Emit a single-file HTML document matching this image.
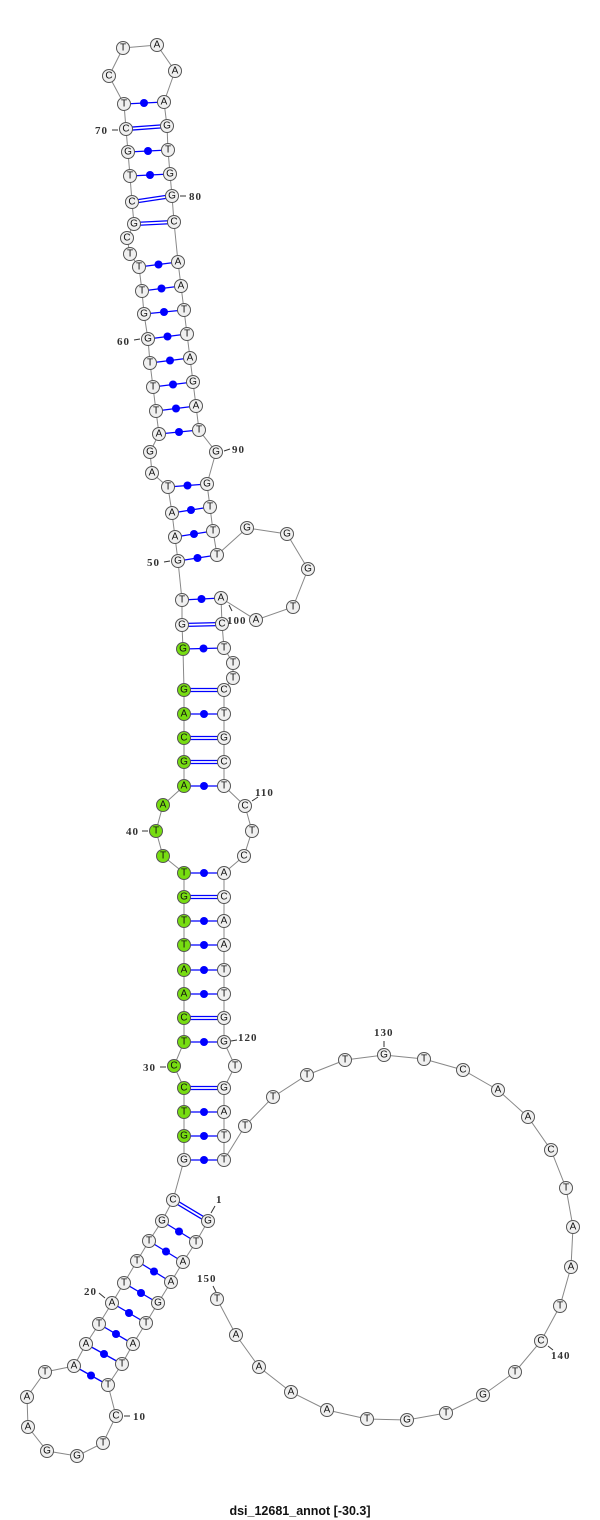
<!DOCTYPE html>
<html><head><meta charset="utf-8"><style>
html,body{margin:0;padding:0;background:#fff;}
svg{display:block}
.n{fill:#f0f0f0;stroke:#555;stroke-width:1}
.g{fill:#77dd11;stroke:#555;stroke-width:1}
.t{font-family:"Liberation Sans",sans-serif;font-size:10px;fill:#111;text-anchor:middle;dominant-baseline:central}
.l{font-family:"Liberation Serif",serif;font-size:11px;font-weight:bold;fill:#333;letter-spacing:1px}
.b{stroke:#0000ff;stroke-width:1.3}
</style></head><body>
<svg width="600" height="1520" viewBox="0 0 600 1520" xmlns="http://www.w3.org/2000/svg">
<polyline fill="none" stroke="#888" stroke-width="1" points="208,1221 196,1242 183,1262 171,1282 158,1303 146,1323 133,1344 122,1364 108,1385 116,1416 103,1443 77,1456 47,1451 28,1427 27,1397 45,1372 74,1366 86,1344 99,1324 112,1303 124,1283 137,1261 149,1241 162,1221 173,1200 184,1160 184,1136 184,1112 184,1088 174,1066 184,1042 184,1018 184,994 184,970 184,945 184,921 184,897 184,873 163,856 156,831 163,805 184,786 184,762 184,738 184,714 184,690 183,649 182,625 182,600 178,561 175,537 172,513 168,487 152,473 150,452 159,434 156,411 153,387 150,363 148,339 144,314 142,291 139,267 130,254 127,238 134,224 132,202 130,176 128,152 126,129 124,104 109,76 123,48 157,45 175,71 164,102 167,126 168,150 170,174 172,196 174,222 178,262 181,286 184,310 187,334 190,358 193,382 196,406 199,430 216,452 207,484 210,507 213,531 217,555 247,528 287,534 308,569 293,607 256,620 221,598 222,624 224,648 233,663 233,678 224,690 224,714 224,738 224,762 224,786 245,806 252,831 244,856 224,873 224,897 224,921 224,945 224,970 224,994 224,1018 224,1042 235,1066 224,1088 224,1112 224,1136 224,1160 245,1126 273,1097 307,1075 345,1060 384,1055 424,1059 463,1070 498,1090 528,1117 551,1150 566,1188 573,1227 571,1267 560,1306 541,1341 515,1372 483,1395 446,1413 407,1420 367,1419 327,1410 291,1392 259,1367 236,1335 217,1299"/>
<!-- dot pairs -->
<g class="b">
<line x1="196" y1="1242" x2="162" y2="1221"/><line x1="183" y1="1262" x2="149" y2="1241"/><line x1="171" y1="1282" x2="137" y2="1261"/><line x1="158" y1="1303" x2="124" y2="1283"/><line x1="146" y1="1323" x2="112" y2="1303"/><line x1="133" y1="1344" x2="99" y2="1324"/><line x1="122" y1="1364" x2="86" y2="1344"/><line x1="108" y1="1385" x2="74" y2="1366"/>
<line x1="184" y1="1160" x2="224" y2="1160"/><line x1="184" y1="1136" x2="224" y2="1136"/><line x1="184" y1="1112" x2="224" y2="1112"/><line x1="184" y1="1042" x2="224" y2="1042"/><line x1="184" y1="994" x2="224" y2="994"/><line x1="184" y1="970" x2="224" y2="970"/><line x1="184" y1="945" x2="224" y2="945"/><line x1="184" y1="921" x2="224" y2="921"/><line x1="184" y1="873" x2="224" y2="873"/><line x1="184" y1="786" x2="224" y2="786"/><line x1="184" y1="714" x2="224" y2="714"/><line x1="183" y1="649" x2="224" y2="648"/><line x1="182" y1="600" x2="221" y2="598"/>
<line x1="178" y1="561" x2="217" y2="555"/><line x1="175" y1="537" x2="213" y2="531"/><line x1="172" y1="513" x2="210" y2="507"/><line x1="168" y1="487" x2="207" y2="484"/>
<line x1="159" y1="434" x2="199" y2="430"/><line x1="156" y1="411" x2="196" y2="406"/><line x1="153" y1="387" x2="193" y2="382"/><line x1="150" y1="363" x2="190" y2="358"/><line x1="148" y1="339" x2="187" y2="334"/><line x1="144" y1="314" x2="184" y2="310"/><line x1="142" y1="291" x2="181" y2="286"/><line x1="139" y1="267" x2="178" y2="262"/>
<line x1="130" y1="176" x2="170" y2="174"/><line x1="128" y1="152" x2="168" y2="150"/><line x1="124" y1="104" x2="164" y2="102"/>
<!-- double pairs -->
<line x1="208.8" y1="1219.7" x2="173.8" y2="1198.7"/><line x1="207.2" y1="1222.3" x2="172.2" y2="1201.3"/>
<line x1="184" y1="1086.5" x2="224" y2="1086.5"/><line x1="184" y1="1089.5" x2="224" y2="1089.5"/>
<line x1="184" y1="1016.5" x2="224" y2="1016.5"/><line x1="184" y1="1019.5" x2="224" y2="1019.5"/>
<line x1="184" y1="895.5" x2="224" y2="895.5"/><line x1="184" y1="898.5" x2="224" y2="898.5"/>
<line x1="184" y1="760.5" x2="224" y2="760.5"/><line x1="184" y1="763.5" x2="224" y2="763.5"/>
<line x1="184" y1="736.5" x2="224" y2="736.5"/><line x1="184" y1="739.5" x2="224" y2="739.5"/>
<line x1="184" y1="688.5" x2="224" y2="688.5"/><line x1="184" y1="691.5" x2="224" y2="691.5"/>
<line x1="182" y1="623.5" x2="222" y2="622.5"/><line x1="182" y1="626.5" x2="222" y2="625.5"/>
<line x1="134" y1="222.5" x2="174" y2="220.5"/><line x1="134" y1="225.5" x2="174" y2="223.5"/>
<line x1="132" y1="200.5" x2="172" y2="194.5"/><line x1="132" y1="203.5" x2="172" y2="197.5"/>
<line x1="126" y1="127.5" x2="167" y2="124.5"/><line x1="126" y1="130.5" x2="167" y2="127.5"/>
</g>
<g fill="#0000ff">
<circle cx="179" cy="1231.5" r="4"/><circle cx="166" cy="1251.5" r="4"/><circle cx="154" cy="1271.5" r="4"/><circle cx="141" cy="1293" r="4"/><circle cx="129" cy="1313" r="4"/><circle cx="116" cy="1334" r="4"/><circle cx="104" cy="1354" r="4"/><circle cx="91" cy="1375.5" r="4"/>
<circle cx="204" cy="1160" r="4"/><circle cx="204" cy="1136" r="4"/><circle cx="204" cy="1112" r="4"/><circle cx="204" cy="1042" r="4"/><circle cx="204" cy="994" r="4"/><circle cx="204" cy="970" r="4"/><circle cx="204" cy="945" r="4"/><circle cx="204" cy="921" r="4"/><circle cx="204" cy="873" r="4"/><circle cx="204" cy="786" r="4"/><circle cx="204" cy="714" r="4"/><circle cx="203.5" cy="648.5" r="4"/><circle cx="201.5" cy="599" r="4"/>
<circle cx="197.5" cy="558" r="4"/><circle cx="194" cy="534" r="4"/><circle cx="191" cy="510" r="4"/><circle cx="187.5" cy="485.5" r="4"/>
<circle cx="179" cy="432" r="4"/><circle cx="176" cy="408.5" r="4"/><circle cx="173" cy="384.5" r="4"/><circle cx="170" cy="360.5" r="4"/><circle cx="167.5" cy="336.5" r="4"/><circle cx="164" cy="312" r="4"/><circle cx="161.5" cy="288.5" r="4"/><circle cx="158.5" cy="264.5" r="4"/>
<circle cx="150" cy="175" r="4"/><circle cx="148" cy="151" r="4"/><circle cx="144" cy="103" r="4"/>
</g>
<!-- nodes -->
<g>
<circle class="n" cx="208" cy="1221" r="6.5"/><text class="t" x="208" y="1221">G</text>
<circle class="n" cx="196" cy="1242" r="6.5"/><text class="t" x="196" y="1242">T</text>
<circle class="n" cx="183" cy="1262" r="6.5"/><text class="t" x="183" y="1262">A</text>
<circle class="n" cx="171" cy="1282" r="6.5"/><text class="t" x="171" y="1282">A</text>
<circle class="n" cx="158" cy="1303" r="6.5"/><text class="t" x="158" y="1303">G</text>
<circle class="n" cx="146" cy="1323" r="6.5"/><text class="t" x="146" y="1323">T</text>
<circle class="n" cx="133" cy="1344" r="6.5"/><text class="t" x="133" y="1344">A</text>
<circle class="n" cx="122" cy="1364" r="6.5"/><text class="t" x="122" y="1364">T</text>
<circle class="n" cx="108" cy="1385" r="6.5"/><text class="t" x="108" y="1385">T</text>
<circle class="n" cx="116" cy="1416" r="6.5"/><text class="t" x="116" y="1416">C</text>
<circle class="n" cx="103" cy="1443" r="6.5"/><text class="t" x="103" y="1443">T</text>
<circle class="n" cx="77" cy="1456" r="6.5"/><text class="t" x="77" y="1456">G</text>
<circle class="n" cx="47" cy="1451" r="6.5"/><text class="t" x="47" y="1451">G</text>
<circle class="n" cx="28" cy="1427" r="6.5"/><text class="t" x="28" y="1427">A</text>
<circle class="n" cx="27" cy="1397" r="6.5"/><text class="t" x="27" y="1397">A</text>
<circle class="n" cx="45" cy="1372" r="6.5"/><text class="t" x="45" y="1372">T</text>
<circle class="n" cx="74" cy="1366" r="6.5"/><text class="t" x="74" y="1366">A</text>
<circle class="n" cx="86" cy="1344" r="6.5"/><text class="t" x="86" y="1344">A</text>
<circle class="n" cx="99" cy="1324" r="6.5"/><text class="t" x="99" y="1324">T</text>
<circle class="n" cx="112" cy="1303" r="6.5"/><text class="t" x="112" y="1303">A</text>
<circle class="n" cx="124" cy="1283" r="6.5"/><text class="t" x="124" y="1283">T</text>
<circle class="n" cx="137" cy="1261" r="6.5"/><text class="t" x="137" y="1261">T</text>
<circle class="n" cx="149" cy="1241" r="6.5"/><text class="t" x="149" y="1241">T</text>
<circle class="n" cx="162" cy="1221" r="6.5"/><text class="t" x="162" y="1221">G</text>
<circle class="n" cx="173" cy="1200" r="6.5"/><text class="t" x="173" y="1200">C</text>
<circle class="n" cx="184" cy="1160" r="6.5"/><text class="t" x="184" y="1160">G</text>
<circle class="g" cx="184" cy="1136" r="6.5"/><text class="t" x="184" y="1136">G</text>
<circle class="g" cx="184" cy="1112" r="6.5"/><text class="t" x="184" y="1112">T</text>
<circle class="g" cx="184" cy="1088" r="6.5"/><text class="t" x="184" y="1088">C</text>
<circle class="g" cx="174" cy="1066" r="6.5"/><text class="t" x="174" y="1066">C</text>
<circle class="g" cx="184" cy="1042" r="6.5"/><text class="t" x="184" y="1042">T</text>
<circle class="g" cx="184" cy="1018" r="6.5"/><text class="t" x="184" y="1018">C</text>
<circle class="g" cx="184" cy="994" r="6.5"/><text class="t" x="184" y="994">A</text>
<circle class="g" cx="184" cy="970" r="6.5"/><text class="t" x="184" y="970">A</text>
<circle class="g" cx="184" cy="945" r="6.5"/><text class="t" x="184" y="945">T</text>
<circle class="g" cx="184" cy="921" r="6.5"/><text class="t" x="184" y="921">T</text>
<circle class="g" cx="184" cy="897" r="6.5"/><text class="t" x="184" y="897">G</text>
<circle class="g" cx="184" cy="873" r="6.5"/><text class="t" x="184" y="873">T</text>
<circle class="g" cx="163" cy="856" r="6.5"/><text class="t" x="163" y="856">T</text>
<circle class="g" cx="156" cy="831" r="6.5"/><text class="t" x="156" y="831">T</text>
<circle class="g" cx="163" cy="805" r="6.5"/><text class="t" x="163" y="805">A</text>
<circle class="g" cx="184" cy="786" r="6.5"/><text class="t" x="184" y="786">A</text>
<circle class="g" cx="184" cy="762" r="6.5"/><text class="t" x="184" y="762">G</text>
<circle class="g" cx="184" cy="738" r="6.5"/><text class="t" x="184" y="738">C</text>
<circle class="g" cx="184" cy="714" r="6.5"/><text class="t" x="184" y="714">A</text>
<circle class="g" cx="184" cy="690" r="6.5"/><text class="t" x="184" y="690">G</text>
<circle class="g" cx="183" cy="649" r="6.5"/><text class="t" x="183" y="649">G</text>
<circle class="n" cx="182" cy="625" r="6.5"/><text class="t" x="182" y="625">G</text>
<circle class="n" cx="182" cy="600" r="6.5"/><text class="t" x="182" y="600">T</text>
<circle class="n" cx="178" cy="561" r="6.5"/><text class="t" x="178" y="561">G</text>
<circle class="n" cx="175" cy="537" r="6.5"/><text class="t" x="175" y="537">A</text>
<circle class="n" cx="172" cy="513" r="6.5"/><text class="t" x="172" y="513">A</text>
<circle class="n" cx="168" cy="487" r="6.5"/><text class="t" x="168" y="487">T</text>
<circle class="n" cx="152" cy="473" r="6.5"/><text class="t" x="152" y="473">A</text>
<circle class="n" cx="150" cy="452" r="6.5"/><text class="t" x="150" y="452">G</text>
<circle class="n" cx="159" cy="434" r="6.5"/><text class="t" x="159" y="434">A</text>
<circle class="n" cx="156" cy="411" r="6.5"/><text class="t" x="156" y="411">T</text>
<circle class="n" cx="153" cy="387" r="6.5"/><text class="t" x="153" y="387">T</text>
<circle class="n" cx="150" cy="363" r="6.5"/><text class="t" x="150" y="363">T</text>
<circle class="n" cx="148" cy="339" r="6.5"/><text class="t" x="148" y="339">G</text>
<circle class="n" cx="144" cy="314" r="6.5"/><text class="t" x="144" y="314">G</text>
<circle class="n" cx="142" cy="291" r="6.5"/><text class="t" x="142" y="291">T</text>
<circle class="n" cx="139" cy="267" r="6.5"/><text class="t" x="139" y="267">T</text>
<circle class="n" cx="130" cy="254" r="6.5"/><text class="t" x="130" y="254">T</text>
<circle class="n" cx="127" cy="238" r="6.5"/><text class="t" x="127" y="238">C</text>
<circle class="n" cx="134" cy="224" r="6.5"/><text class="t" x="134" y="224">G</text>
<circle class="n" cx="132" cy="202" r="6.5"/><text class="t" x="132" y="202">C</text>
<circle class="n" cx="130" cy="176" r="6.5"/><text class="t" x="130" y="176">T</text>
<circle class="n" cx="128" cy="152" r="6.5"/><text class="t" x="128" y="152">G</text>
<circle class="n" cx="126" cy="129" r="6.5"/><text class="t" x="126" y="129">C</text>
<circle class="n" cx="124" cy="104" r="6.5"/><text class="t" x="124" y="104">T</text>
<circle class="n" cx="109" cy="76" r="6.5"/><text class="t" x="109" y="76">C</text>
<circle class="n" cx="123" cy="48" r="6.5"/><text class="t" x="123" y="48">T</text>
<circle class="n" cx="157" cy="45" r="6.5"/><text class="t" x="157" y="45">A</text>
<circle class="n" cx="175" cy="71" r="6.5"/><text class="t" x="175" y="71">A</text>
<circle class="n" cx="164" cy="102" r="6.5"/><text class="t" x="164" y="102">A</text>
<circle class="n" cx="167" cy="126" r="6.5"/><text class="t" x="167" y="126">G</text>
<circle class="n" cx="168" cy="150" r="6.5"/><text class="t" x="168" y="150">T</text>
<circle class="n" cx="170" cy="174" r="6.5"/><text class="t" x="170" y="174">G</text>
<circle class="n" cx="172" cy="196" r="6.5"/><text class="t" x="172" y="196">G</text>
<circle class="n" cx="174" cy="222" r="6.5"/><text class="t" x="174" y="222">C</text>
<circle class="n" cx="178" cy="262" r="6.5"/><text class="t" x="178" y="262">A</text>
<circle class="n" cx="181" cy="286" r="6.5"/><text class="t" x="181" y="286">A</text>
<circle class="n" cx="184" cy="310" r="6.5"/><text class="t" x="184" y="310">T</text>
<circle class="n" cx="187" cy="334" r="6.5"/><text class="t" x="187" y="334">T</text>
<circle class="n" cx="190" cy="358" r="6.5"/><text class="t" x="190" y="358">A</text>
<circle class="n" cx="193" cy="382" r="6.5"/><text class="t" x="193" y="382">G</text>
<circle class="n" cx="196" cy="406" r="6.5"/><text class="t" x="196" y="406">A</text>
<circle class="n" cx="199" cy="430" r="6.5"/><text class="t" x="199" y="430">T</text>
<circle class="n" cx="216" cy="452" r="6.5"/><text class="t" x="216" y="452">G</text>
<circle class="n" cx="207" cy="484" r="6.5"/><text class="t" x="207" y="484">G</text>
<circle class="n" cx="210" cy="507" r="6.5"/><text class="t" x="210" y="507">T</text>
<circle class="n" cx="213" cy="531" r="6.5"/><text class="t" x="213" y="531">T</text>
<circle class="n" cx="217" cy="555" r="6.5"/><text class="t" x="217" y="555">T</text>
<circle class="n" cx="247" cy="528" r="6.5"/><text class="t" x="247" y="528">G</text>
<circle class="n" cx="287" cy="534" r="6.5"/><text class="t" x="287" y="534">G</text>
<circle class="n" cx="308" cy="569" r="6.5"/><text class="t" x="308" y="569">G</text>
<circle class="n" cx="293" cy="607" r="6.5"/><text class="t" x="293" y="607">T</text>
<circle class="n" cx="256" cy="620" r="6.5"/><text class="t" x="256" y="620">A</text>
<circle class="n" cx="221" cy="598" r="6.5"/><text class="t" x="221" y="598">A</text>
<circle class="n" cx="222" cy="624" r="6.5"/><text class="t" x="222" y="624">C</text>
<circle class="n" cx="224" cy="648" r="6.5"/><text class="t" x="224" y="648">T</text>
<circle class="n" cx="233" cy="663" r="6.5"/><text class="t" x="233" y="663">T</text>
<circle class="n" cx="233" cy="678" r="6.5"/><text class="t" x="233" y="678">T</text>
<circle class="n" cx="224" cy="690" r="6.5"/><text class="t" x="224" y="690">C</text>
<circle class="n" cx="224" cy="714" r="6.5"/><text class="t" x="224" y="714">T</text>
<circle class="n" cx="224" cy="738" r="6.5"/><text class="t" x="224" y="738">G</text>
<circle class="n" cx="224" cy="762" r="6.5"/><text class="t" x="224" y="762">C</text>
<circle class="n" cx="224" cy="786" r="6.5"/><text class="t" x="224" y="786">T</text>
<circle class="n" cx="245" cy="806" r="6.5"/><text class="t" x="245" y="806">C</text>
<circle class="n" cx="252" cy="831" r="6.5"/><text class="t" x="252" y="831">T</text>
<circle class="n" cx="244" cy="856" r="6.5"/><text class="t" x="244" y="856">C</text>
<circle class="n" cx="224" cy="873" r="6.5"/><text class="t" x="224" y="873">A</text>
<circle class="n" cx="224" cy="897" r="6.5"/><text class="t" x="224" y="897">C</text>
<circle class="n" cx="224" cy="921" r="6.5"/><text class="t" x="224" y="921">A</text>
<circle class="n" cx="224" cy="945" r="6.5"/><text class="t" x="224" y="945">A</text>
<circle class="n" cx="224" cy="970" r="6.5"/><text class="t" x="224" y="970">T</text>
<circle class="n" cx="224" cy="994" r="6.5"/><text class="t" x="224" y="994">T</text>
<circle class="n" cx="224" cy="1018" r="6.5"/><text class="t" x="224" y="1018">G</text>
<circle class="n" cx="224" cy="1042" r="6.5"/><text class="t" x="224" y="1042">G</text>
<circle class="n" cx="235" cy="1066" r="6.5"/><text class="t" x="235" y="1066">T</text>
<circle class="n" cx="224" cy="1088" r="6.5"/><text class="t" x="224" y="1088">G</text>
<circle class="n" cx="224" cy="1112" r="6.5"/><text class="t" x="224" y="1112">A</text>
<circle class="n" cx="224" cy="1136" r="6.5"/><text class="t" x="224" y="1136">T</text>
<circle class="n" cx="224" cy="1160" r="6.5"/><text class="t" x="224" y="1160">T</text>
<circle class="n" cx="245" cy="1126" r="6.5"/><text class="t" x="245" y="1126">T</text>
<circle class="n" cx="273" cy="1097" r="6.5"/><text class="t" x="273" y="1097">T</text>
<circle class="n" cx="307" cy="1075" r="6.5"/><text class="t" x="307" y="1075">T</text>
<circle class="n" cx="345" cy="1060" r="6.5"/><text class="t" x="345" y="1060">T</text>
<circle class="n" cx="384" cy="1055" r="6.5"/><text class="t" x="384" y="1055">G</text>
<circle class="n" cx="424" cy="1059" r="6.5"/><text class="t" x="424" y="1059">T</text>
<circle class="n" cx="463" cy="1070" r="6.5"/><text class="t" x="463" y="1070">C</text>
<circle class="n" cx="498" cy="1090" r="6.5"/><text class="t" x="498" y="1090">A</text>
<circle class="n" cx="528" cy="1117" r="6.5"/><text class="t" x="528" y="1117">A</text>
<circle class="n" cx="551" cy="1150" r="6.5"/><text class="t" x="551" y="1150">C</text>
<circle class="n" cx="566" cy="1188" r="6.5"/><text class="t" x="566" y="1188">T</text>
<circle class="n" cx="573" cy="1227" r="6.5"/><text class="t" x="573" y="1227">A</text>
<circle class="n" cx="571" cy="1267" r="6.5"/><text class="t" x="571" y="1267">A</text>
<circle class="n" cx="560" cy="1306" r="6.5"/><text class="t" x="560" y="1306">T</text>
<circle class="n" cx="541" cy="1341" r="6.5"/><text class="t" x="541" y="1341">C</text>
<circle class="n" cx="515" cy="1372" r="6.5"/><text class="t" x="515" y="1372">T</text>
<circle class="n" cx="483" cy="1395" r="6.5"/><text class="t" x="483" y="1395">G</text>
<circle class="n" cx="446" cy="1413" r="6.5"/><text class="t" x="446" y="1413">T</text>
<circle class="n" cx="407" cy="1420" r="6.5"/><text class="t" x="407" y="1420">G</text>
<circle class="n" cx="367" cy="1419" r="6.5"/><text class="t" x="367" y="1419">T</text>
<circle class="n" cx="327" cy="1410" r="6.5"/><text class="t" x="327" y="1410">A</text>
<circle class="n" cx="291" cy="1392" r="6.5"/><text class="t" x="291" y="1392">A</text>
<circle class="n" cx="259" cy="1367" r="6.5"/><text class="t" x="259" y="1367">A</text>
<circle class="n" cx="236" cy="1335" r="6.5"/><text class="t" x="236" y="1335">A</text>
<circle class="n" cx="217" cy="1299" r="6.5"/><text class="t" x="217" y="1299">T</text>
</g>
<!-- number labels -->
<g stroke="#333" stroke-width="1">
<line x1="215" y1="1206" x2="211" y2="1213"/>
<line x1="124" y1="1416" x2="130" y2="1416"/>
<line x1="99" y1="1293" x2="105" y2="1298"/>
<line x1="160" y1="1067" x2="166" y2="1067"/>
<line x1="142" y1="831" x2="148" y2="831"/>
<line x1="164" y1="562" x2="170" y2="561"/>
<line x1="134" y1="340" x2="140" y2="339"/>
<line x1="112" y1="130" x2="118" y2="130"/>
<line x1="180" y1="196" x2="186" y2="196"/>
<line x1="224" y1="451" x2="230" y2="449"/>
<line x1="229" y1="605" x2="232" y2="611"/>
<line x1="252" y1="801" x2="258" y2="797"/>
<line x1="231" y1="1041" x2="237" y2="1040"/>
<line x1="384" y1="1041" x2="384" y2="1047"/>
<line x1="548" y1="1346" x2="553" y2="1350"/>
<line x1="213" y1="1286" x2="216" y2="1292"/>
</g>
<g class="l">
<text x="216" y="1203">1</text>
<text x="133" y="1420">10</text>
<text x="84" y="1295">20</text>
<text x="143" y="1071">30</text>
<text x="126" y="835">40</text>
<text x="147" y="566">50</text>
<text x="117" y="345">60</text>
<text x="95" y="134">70</text>
<text x="189" y="200">80</text>
<text x="232" y="453">90</text>
<text x="227" y="624">100</text>
<text x="255" y="796">110</text>
<text x="238" y="1041">120</text>
<text x="374" y="1036">130</text>
<text x="551" y="1359">140</text>
<text x="197" y="1282">150</text>
</g>
<text x="300" y="1515" text-anchor="middle" font-family="Liberation Sans, sans-serif" font-size="12.5" font-weight="bold" fill="#111">dsi_12681_annot [-30.3]</text>
</svg>
</body></html>
